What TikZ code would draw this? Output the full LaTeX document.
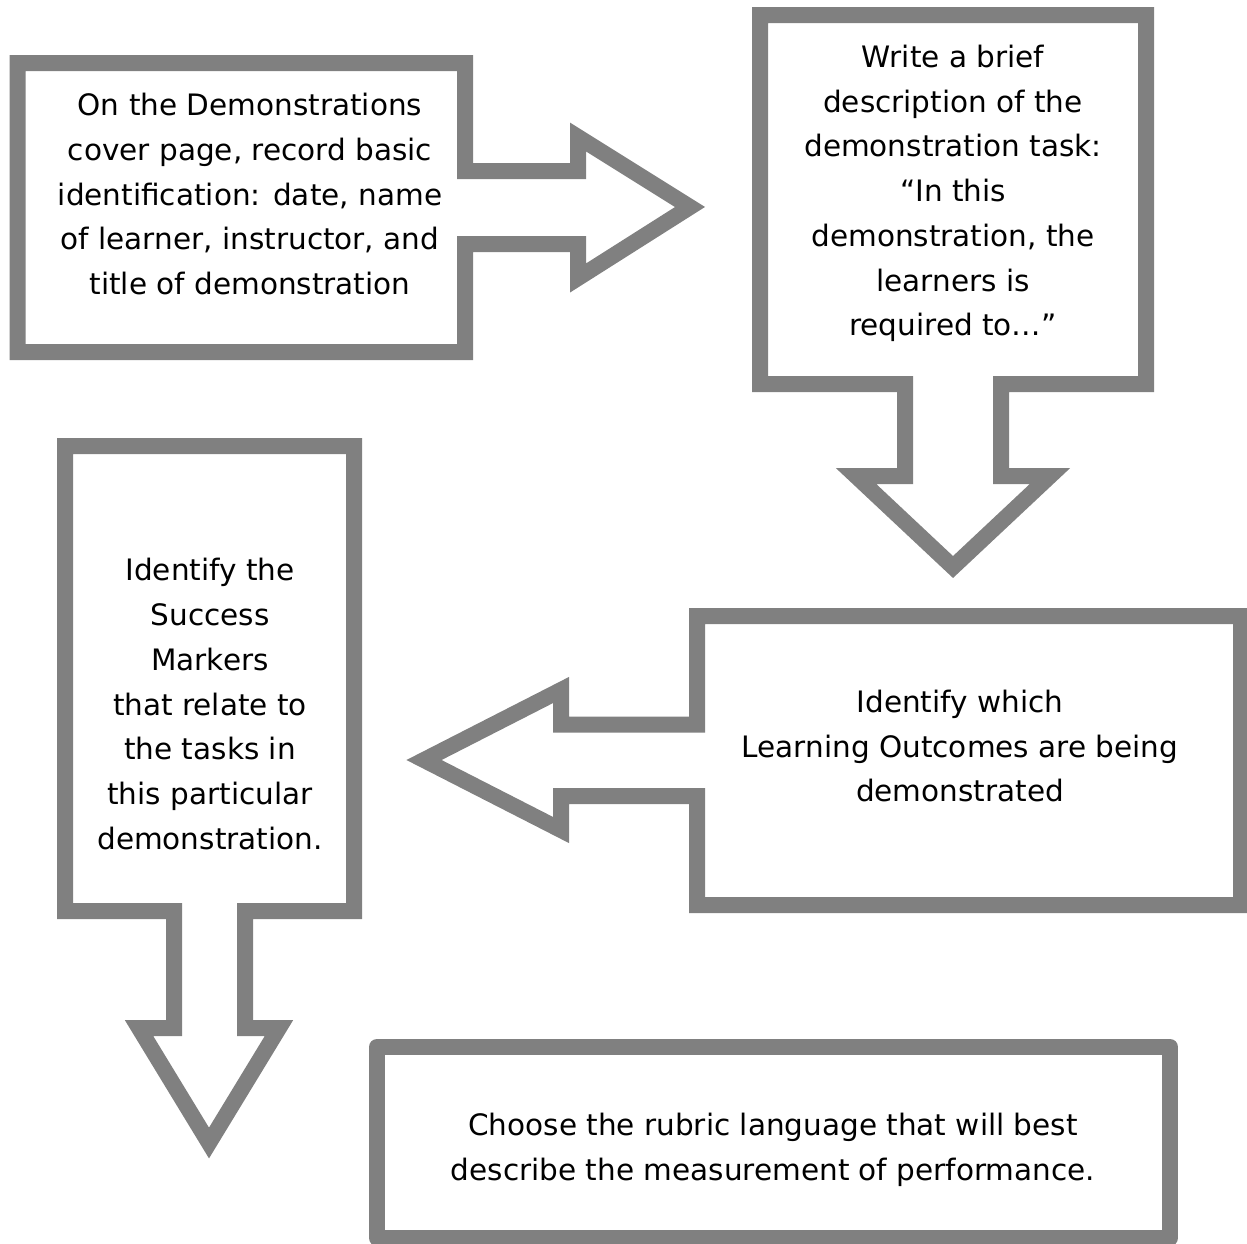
\documentclass[tikz,border=0pt]{standalone}
\usepackage{fontspec}
\setmainfont{DejaVu Sans}
\definecolor{boxgray}{RGB}{128,128,128}
\begin{document}
\begin{tikzpicture}[x=1pt,y=-1pt,
  callout/.style={draw=boxgray, line width=16pt, line join=miter, fill=white},
  plainbox/.style={draw=boxgray, line width=16pt, line join=round, fill=white},
  txt/.style={align=center, font=\fontsize{29.5}{44.7}\selectfont, inner sep=0pt, text=black}]
\useasboundingbox (0,0) rectangle (1247,1243);

% Step 1: right arrow callout
\draw[callout] (17.5,63) -- (465,63) -- (465,171) -- (578,171) -- (578,137) -- (690,207)
  -- (578,278) -- (578,244) -- (465,244) -- (465,352) -- (17.5,352) -- cycle;
% Step 2: down arrow callout
\draw[callout] (760,15) -- (1146,15) -- (1146,384) -- (1001,384) -- (1001,476) -- (1050,476)
  -- (953,567) -- (856,476) -- (905,476) -- (905,384) -- (760,384) -- cycle;
% Step 3: left arrow callout
\draw[callout] (697,616) -- (1241,616) -- (1241,905) -- (697,905) -- (697,796) -- (561,796)
  -- (561,830) -- (424,760) -- (561,690) -- (561,724.5) -- (697,724.5) -- cycle;
% Step 4: down arrow callout
\draw[callout] (65,446) -- (354,446) -- (354,911) -- (245,911) -- (245,1028) -- (279,1028)
  -- (209,1143) -- (139,1028) -- (174,1028) -- (174,911) -- (65,911) -- cycle;
% Step 5: plain box
\draw[plainbox] (377,1047) rectangle (1170,1238);

\node[txt] (t1) at (250,194) {On the Demonstrations\\cover page, record basic\\identification: date, name\\of learner, instructor, and\\title of demonstration};
\node[txt] (t2) at (953,193.5) {Write a brief\\description of the\\demonstration task:\\“In this\\demonstration, the\\learners is\\required to…”};
\node[txt] (t3) at (960,746) {Identify which\\Learning Outcomes are being\\demonstrated};
\node[txt] (t4) at (210,704) {Identify the\\Success\\Markers\\that relate to\\the tasks in\\this particular\\demonstration.};
\node[txt] (t5) at (773,1150) {Choose the rubric language that will best\\describe the measurement of performance.};
\end{tikzpicture}
\end{document}
